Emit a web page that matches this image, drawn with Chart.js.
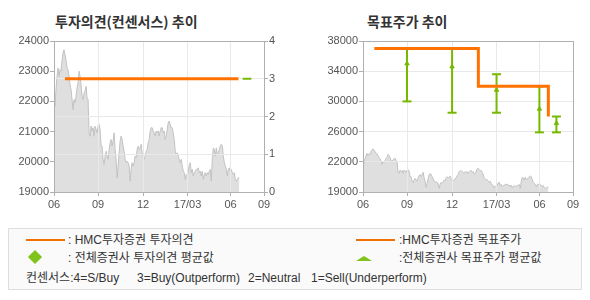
<!DOCTYPE html>
<html>
<head>
<meta charset="utf-8">
<script src="https://cdn.jsdelivr.net/npm/chart.js@4.4.0/dist/chart.umd.min.js"></script>
<style>
body { margin: 0; background: #fff; width: 590px; height: 300px; position: relative; overflow: hidden;
  font-family: "Noto Sans CJK KR", sans-serif; color: #333; }
.abs { position: absolute; }
.title { font-size: 14px; font-weight: bold; line-height: 16px; color: #333; white-space: nowrap; }
.lg { font-family: "Liberation Sans", "Noto Sans CJK KR", sans-serif; font-size: 12px; line-height: 14px; white-space: nowrap; color: #333; }
</style>
</head>
<body>
<div class="abs title" style="left:55px;top:13px">투자의견(컨센서스) 추이</div>
<div class="abs title" style="left:367px;top:13px">목표주가 추이</div>
<canvas id="opinionChart" class="abs" style="left:0;top:0" width="295" height="215"></canvas>
<canvas id="targetChart" class="abs" style="left:295px;top:0" width="295" height="215"></canvas>

<div class="abs" style="left:8px;top:228px;width:572px;height:60px;border:1px solid #dedede;background:#fafafa"></div>
<div class="abs" style="left:26px;top:239px;width:39px;height:2px;background:#f07000"></div>
<div class="abs lg" style="left:68px;top:233px">: HMC투자증권 투자의견</div>
<div class="abs" style="left:30px;top:252px;width:10px;height:10px;background:#80c31c;transform:rotate(45deg)"></div>
<div class="abs lg" style="left:68px;top:251px">: 전체증권사 투자의견 평균값</div>
<div class="abs lg" style="left:26px;top:271px">컨센서스:4=S/Buy</div>
<div class="abs lg" style="left:137px;top:271px">3=Buy(Outperform)</div>
<div class="abs lg" style="left:248px;top:271px">2=Neutral</div>
<div class="abs lg" style="left:311px;top:271px">1=Sell(Underperform)</div>
<div class="abs" style="left:356px;top:239px;width:39px;height:2px;background:#f07000"></div>
<div class="abs lg" style="left:399px;top:233px">:HMC투자증권 목표주가</div>
<div class="abs" style="left:356px;top:256px;width:0;height:0;border-left:8px solid transparent;border-right:8px solid transparent;border-bottom:5px solid #80c31c"></div>
<div class="abs lg" style="left:399px;top:251px">:전체증권사 목표주가 평균값</div>

<script>
// x positions are in months from 2016-06
const monthLabels = ['06', '09', '12', '17/03', '06', '09'];
const monthPos = [0, 3, 6.07, 9.1, 12.03, 14.31];

// daily close, 2016-06 .. 2017-07
const prices = [
	22170, 21840, 22390, 22830, 23110, 22830, 23050, 23000, 23330, 23600,
	23710, 23550, 23380, 23110, 23050, 22830, 22560, 22390, 22060, 21730,
	22060, 21950, 22170, 22450, 22610, 23000, 22830, 22560, 22170, 22060,
	22280, 22340, 22500, 22120, 22060, 20960, 20850, 21180, 21020, 21130,
	20850, 21180, 21070, 20960, 21180, 21240, 21070, 20520, 20520, 20080,
	19910, 20190, 20350, 20190, 20080, 20410, 20630, 20740, 20520, 20690,
	20960, 20410, 20080, 19470, 19860, 20300, 20690, 20850, 20740, 20520,
	20350, 20080, 19970, 20020, 19970, 19860, 19360, 19750, 19970, 19860,
	19970, 20190, 20130, 20410, 20520, 20410, 20460, 20580, 20300, 20190,
	20080, 20190, 20350, 20410, 20630, 20740, 21020, 21130, 21130, 21020,
	20960, 20850, 21020, 20960, 21020, 20850, 21020, 21130, 21130, 20960,
	21020, 20740, 20850, 21070, 21290, 21350, 21240, 21130, 21130, 20960,
	20740, 20350, 20240, 20300, 20190, 20080, 19970, 20080, 19860, 19690,
	19640, 19420, 19580, 19530, 19640, 19910, 19970, 19640, 19750, 19530,
	19640, 19690, 19750, 19750, 19800, 19640, 19690, 19530, 19690, 19420,
	19580, 19640, 19530, 19640, 19580, 19690, 19750, 19360, 20080, 20460,
	20410, 20190, 20460, 20240, 20300, 20410, 20520, 20580, 20520, 20190,
	19970, 19860, 19750, 19530, 19750, 19800, 19690, 19750, 19640, 19580,
	19640, 19420, 19360, 19420, 19470, 19470,
];
const priceFirst = 0;
const priceLast = 12.63;

const opinionDates = [0.75, 12.57];
const opinionValues = [3, 3];
const avgOpinionDates = [12.86, 13.45];
const avgOpinionValues = [3, 3];

const targetDates = [0.77, 7.86, 12.63];
const targetValues = [37000, 32000, 28000];

const avgDates = [3.0, 6.07, 9.1, 12.02, 13.18];
const avgHigh = [37000, 37000, 33600, 32000, 28000];
const avgLow = [30000, 28500, 28500, 25900, 25900];
const avgMean = [35000, 34600, 31500, 29000, 27100];

const priceTicks = [19000, 20000, 21000, 22000, 23000, 24000];
const opinionTicks = [0, 1, 2, 3, 4];
const targetTicks = [19000, 22000, 26000, 30000, 34000, 38000];

const ORANGE = '#ff7200';
const GREEN = '#77b900';
const FRAME = '#b0b0b0';
const GRID = '#e9e9e9';

Chart.defaults.font.family = '"Liberation Sans", Arial, sans-serif';
Chart.defaults.font.size = 11;
Chart.defaults.color = '#555';
Chart.defaults.animation = false;

// each labelled interval gets the same height, like the original axis
class StopScale extends Chart.LinearScale {
	getPixelForValue(v) {
		const s = targetTicks, n = s.length - 1;
		let i = 0;
		while (i < n - 1 && v > s[i + 1]) i++;
		return this.getPixelForDecimal((i + (v - s[i]) / (s[i + 1] - s[i])) / n);
	}
	getValueForPixel(p) {
		const s = targetTicks, n = s.length - 1;
		const d = this.getDecimalForPixel(p) * n;
		const i = Math.min(Math.max(Math.floor(d), 0), n - 1);
		return s[i] + (d - i) * (s[i + 1] - s[i]);
	}
}
StopScale.id = 'stops';
StopScale.defaults = Chart.LinearScale.defaults;
Chart.register(StopScale);

const pricePoints = prices.map((p, i) => ({ x: priceFirst + i * (priceLast - priceFirst) / (prices.length - 1), y: p }));
const pairs = (xs, ys) => xs.map((x, i) => ({ x: x, y: ys[i] }));

// grid lines sit on top of the grey price area
const gridOnTop = {
	id: 'gridOnTop',
	afterDatasetDraw(chart, args) {
		if (chart.data.datasets[args.index].label !== 'price') return;
		Object.values(chart.scales).forEach((s) => {
			if (s.options.grid.drawOnChartArea) s.drawGrid(chart.chartArea);
		});
	},
};
const frame = {
	id: 'frame',
	afterDraw(chart) {
		const { ctx, chartArea: a } = chart;
		ctx.save();
		ctx.strokeStyle = FRAME;
		ctx.lineWidth = 1;
		ctx.strokeRect(a.left + 0.5, a.top + 0.5, a.right - a.left, a.bottom - a.top);
		ctx.restore();
	},
};

const xAxis = () => ({
	type: 'linear',
	min: 0,
	max: monthPos[monthPos.length - 1],
	afterBuildTicks: (s) => { s.ticks = monthPos.map((v) => ({ value: v })); },
	afterFit: (s) => { s.height = 23; },
	ticks: { autoSkip: false, maxRotation: 0, padding: 2, callback: (v, i) => monthLabels[i] },
	grid: { color: GRID, tickLength: 4, tickColor: FRAME },
	border: { display: false },
});

const priceSet = (axis) => ({
	label: 'price',
	data: pricePoints,
	yAxisID: axis,
	borderColor: '#c2c2c2',
	borderWidth: 1,
	backgroundColor: '#dfdfdf',
	fill: 'start',
	pointRadius: 0,
	tension: 0,
	order: 10,
});

new Chart(document.getElementById('opinionChart'), {
	type: 'line',
	data: {
		datasets: [
			priceSet('y'),
			{
				label: 'opinion',
				data: pairs(opinionDates, opinionValues),
				yAxisID: 'y2',
				borderColor: ORANGE,
				borderWidth: 3,
				borderCapStyle: 'butt',
				pointRadius: 0,
				order: 1,
			},
			{
				label: 'avgOpinion',
				data: pairs(avgOpinionDates, avgOpinionValues),
				yAxisID: 'y2',
				borderColor: GREEN,
				borderWidth: 2,
				borderCapStyle: 'butt',
				pointRadius: 0,
				order: 2,
			},
		],
	},
	options: {
		responsive: false,
		devicePixelRatio: 1,
		layout: { padding: { top: 41 } },
		plugins: { legend: { display: false }, tooltip: { enabled: false } },
		scales: {
			x: xAxis(),
			y: {
				position: 'left',
				min: priceTicks[0],
				max: priceTicks[priceTicks.length - 1],
				afterBuildTicks: (s) => { s.ticks = priceTicks.map((v) => ({ value: v })); },
				afterFit: (s) => { s.width = 54; },
				ticks: { padding: 1, callback: (v) => String(v) },
				grid: { drawOnChartArea: false, tickLength: 4, tickColor: FRAME },
				border: { display: false },
			},
			y2: {
				position: 'right',
				min: 0,
				max: 4,
				afterBuildTicks: (s) => { s.ticks = opinionTicks.map((v) => ({ value: v })); },
				afterFit: (s) => { s.width = 31; },
				ticks: { padding: 1 },
				grid: { color: GRID, tickLength: 4, tickColor: FRAME },
				border: { display: false },
			},
		},
	},
	plugins: [gridOnTop, frame],
});

const errorSets = avgDates.map((x, i) => ({
	label: 'range' + i,
	data: [{ x: x, y: avgLow[i] }, { x: x, y: avgHigh[i] }],
	borderColor: GREEN,
	borderWidth: 2,
	pointStyle: 'line',
	pointRadius: 4.5,
	pointBorderWidth: 2,
	pointBorderColor: GREEN,
	order: 5,
}));

new Chart(document.getElementById('targetChart'), {
	type: 'line',
	data: {
		datasets: [
			priceSet('y'),
			...errorSets,
			{
				label: 'mean',
				data: pairs(avgDates, avgMean),
				showLine: false,
				pointStyle: 'triangle',
				pointRadius: 2.5,
				pointBackgroundColor: GREEN,
				pointBorderColor: GREEN,
				pointBorderWidth: 1,
				order: 4,
			},
			{
				label: 'target',
				data: pairs(targetDates, targetValues),
				stepped: 'before',
				borderColor: ORANGE,
				borderWidth: 3,
				borderJoinStyle: 'miter',
				borderCapStyle: 'butt',
				pointRadius: 0,
				order: 1,
			},
		],
	},
	options: {
		responsive: false,
		devicePixelRatio: 1,
		layout: { padding: { top: 41, right: 17 } },
		plugins: { legend: { display: false }, tooltip: { enabled: false } },
		scales: {
			x: xAxis(),
			y: {
				type: 'stops',
				position: 'left',
				min: targetTicks[0],
				max: targetTicks[targetTicks.length - 1],
				afterBuildTicks: (s) => { s.ticks = targetTicks.map((v) => ({ value: v })); },
				afterFit: (s) => { s.width = 68; },
				ticks: { padding: 1, callback: (v) => String(v) },
				grid: { color: GRID, tickLength: 4, tickColor: FRAME },
				border: { display: false },
			},
		},
	},
	plugins: [gridOnTop, frame],
});
</script>
</body>
</html>
